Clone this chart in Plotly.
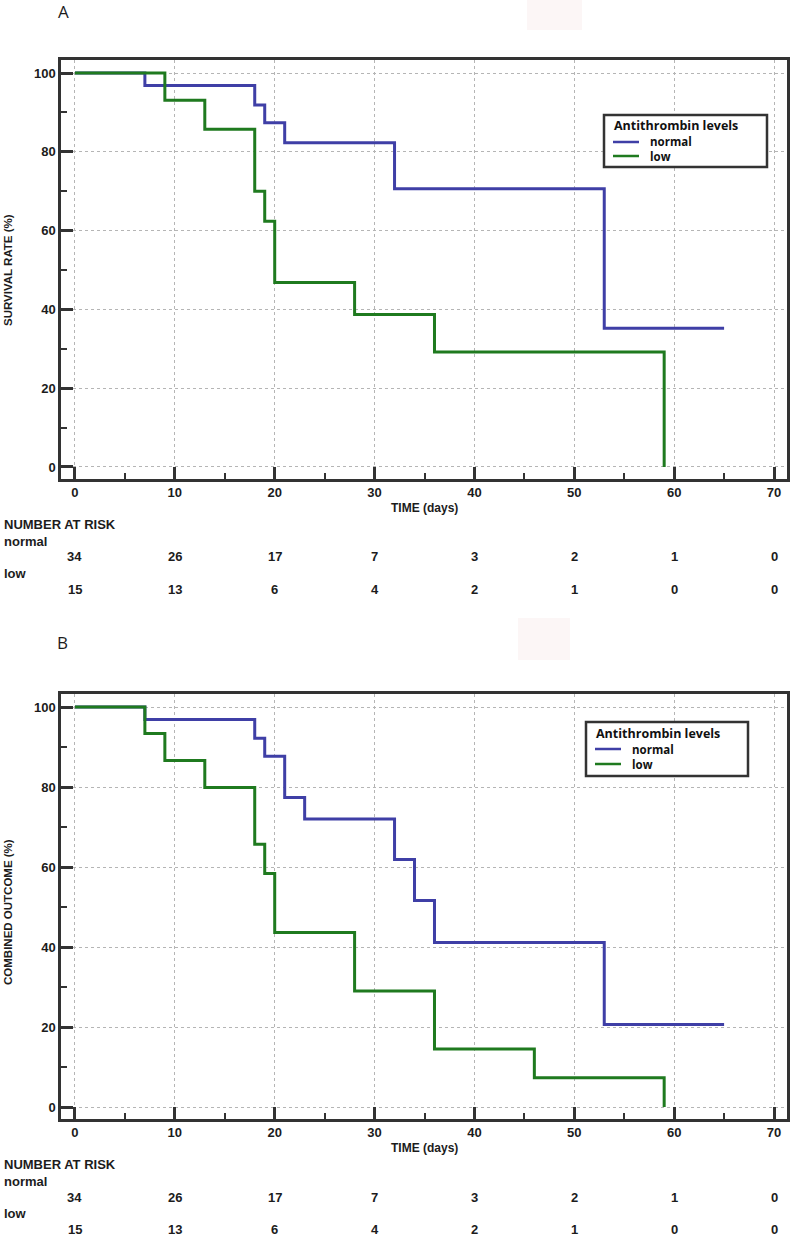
import plotly.graph_objects as go

W, H = 790, 1237

# ---------------- data ----------------
# Panel A: survival
a_normal_t = [0, 7, 18, 19, 21, 32, 53, 65]
a_normal_v = [100, 96.8, 91.9, 87.4, 82.3, 70.6, 35.2, 35.2]
a_low_t = [0, 9, 13, 18, 19, 20, 28, 36, 59]
a_low_v = [100, 93.1, 85.7, 70.0, 62.4, 46.8, 38.7, 29.2, 0]

# Panel B: combined outcome
b_normal_t = [0, 7, 18, 19, 21, 23, 32, 34, 36, 53, 65]
b_normal_v = [100, 96.9, 92.2, 87.7, 77.4, 72.0, 61.9, 51.6, 41.1, 20.6, 20.6]
b_low_t = [0, 7, 9, 13, 18, 19, 20, 28, 36, 46, 59]
b_low_v = [100, 93.4, 86.6, 79.9, 65.7, 58.4, 43.6, 29.0, 14.5, 7.3, 0]

risk_times = [0, 10, 20, 30, 40, 50, 60, 70]
a_risk_normal = [34, 26, 17, 7, 3, 2, 1, 0]
a_risk_low = [15, 13, 6, 4, 2, 1, 0, 0]
b_risk_normal = [34, 26, 17, 7, 3, 2, 1, 0]
b_risk_low = [15, 13, 6, 4, 2, 1, 0, 0]

x_ticks = [0, 10, 20, 30, 40, 50, 60, 70]
y_ticks = [0, 20, 40, 60, 80, 100]

group_names = ["normal", "low"]
legend_title = "Antithrombin levels"

BLUE = "#3f3fa6"
GREEN = "#1f7a1f"
DARK = "#333333"
TXT = "#1c1c1c"
FONT = "Liberation Sans"


def fx(p):
    return p / W


def fy(p):
    return 1 - p / H


fig = go.Figure()

for xs, ys, col, nm, xa, ya in [
    (a_normal_t, a_normal_v, BLUE, group_names[0], "x", "y"),
    (a_low_t, a_low_v, GREEN, group_names[1], "x", "y"),
    (b_normal_t, b_normal_v, BLUE, group_names[0], "x2", "y2"),
    (b_low_t, b_low_v, GREEN, group_names[1], "x2", "y2"),
]:
    fig.add_trace(go.Scatter(x=xs, y=ys, mode="lines", line_shape="hv",
                             line=dict(color=col, width=3), name=nm,
                             xaxis=xa, yaxis=ya, showlegend=False))

tickfont = dict(family=FONT, size=13, color=TXT, weight="bold")

xcommon = dict(
    range=[-1.4, 71.3], tickvals=x_ticks, ticks="inside", ticklen=12, tickwidth=2.5,
    tickcolor=DARK, showline=True, linewidth=2.5, linecolor=DARK, mirror=True,
    showgrid=True, gridcolor="#b5b5b5", griddash="dot", gridwidth=1, zeroline=False,
    tickfont=tickfont,
    minor=dict(dtick=5, tick0=0, ticks="inside", ticklen=6, tickwidth=1.5,
               tickcolor=DARK, showgrid=False),
    domain=[fx(61), fx(787)],
)
ycommon = dict(
    tickvals=y_ticks, ticks="inside", ticklen=12, tickwidth=2.5,
    tickcolor=DARK, showline=True, linewidth=2.5, linecolor=DARK, mirror=True,
    showgrid=True, gridcolor="#b5b5b5", griddash="dot", gridwidth=1, zeroline=False,
    tickfont=tickfont,
    minor=dict(dtick=10, tick0=0, ticks="inside", ticklen=6, tickwidth=1.5,
               tickcolor=DARK, showgrid=False),
)

fig.update_layout(
    width=W, height=H,
    margin=dict(l=0, r=0, t=0, b=0),
    paper_bgcolor="white", plot_bgcolor="white",
    showlegend=False,
    xaxis=dict(**xcommon, anchor="y"),
    yaxis=dict(**ycommon, range=[-3.05, 103.3], domain=[fy(479), fy(60)], anchor="x"),
    xaxis2=dict(**xcommon, anchor="y2"),
    yaxis2=dict(**ycommon, range=[-3.0, 103.25], domain=[fy(1119), fy(694)], anchor="x2"),
)

ann = []


def text(x, y, s, size=12, xanchor="center", xref="paper", bold=True, angle=0,
         family=FONT, color=TXT, yanchor="middle"):
    ann.append(dict(
        x=x, y=y, xref=xref, yref="paper",
        text=f"<b>{s}</b>" if bold else s, showarrow=False,
        xanchor=xanchor, yanchor=yanchor, textangle=angle, borderpad=0,
        align="left" if xanchor == "left" else "center",
        font=dict(family=family, size=size, color=color),
    ))


# panel letters
text(fx(63.5), fy(11), "A", size=17, bold=False, family="Open Sans")
text(fx(63), fy(642), "B", size=17, bold=False, family="Open Sans")

# y axis titles
text(fx(8), fy(270), "SURVIVAL RATE (%)", size=11.5, angle=-90)
text(fx(8), fy(912), "COMBINED OUTCOME (%)", size=11.5, angle=-90)

# panel blocks (x title + number at risk)
for (ybase, rn, rl, xr) in [(479, a_risk_normal, a_risk_low, "x"),
                            (1119, b_risk_normal, b_risk_low, "x2")]:
    text(fx(424), fy(ybase + 29), "TIME (days)", size=12)
    text(fx(3), fy(ybase + 45), "NUMBER AT RISK", size=13, xanchor="left")
    text(fx(3), fy(ybase + 62), group_names[0], size=13, xanchor="left")
    text(fx(3), fy(ybase + 94), group_names[1], size=13, xanchor="left")
    for t, n in zip(risk_times, rn):
        text(t, fy(ybase + 78), str(n), size=13, xref=xr)
    for t, n in zip(risk_times, rl):
        text(t, fy(ybase + 110), str(n), size=13, xref=xr)

shapes = []
# custom legends: (box x0, y0, x1, y1, text-left x, title y, row ys)
for (bx0, by0, bx1, by1, lx, ty, rows) in [
    (604, 115, 767, 167, 613, 126, (142, 156)),
    (586, 722, 748, 776, 595, 733, (749, 764)),
]:
    shapes.append(dict(type="rect", xref="paper", yref="paper",
                       x0=fx(bx0), x1=fx(bx1), y0=fy(by1), y1=fy(by0),
                       fillcolor="white", line=dict(color=DARK, width=2.5)))
    text(fx(lx), fy(ty), legend_title, size=12.5, xanchor="left",
         family="Open Sans", color="#111111")
    for ry, col in zip(rows, [BLUE, GREEN]):
        shapes.append(dict(type="line", xref="paper", yref="paper",
                           x0=fx(lx), x1=fx(lx + 26), y0=fy(ry), y1=fy(ry),
                           line=dict(color=col, width=2.5)))
    text(fx(lx + 36), fy((rows[0] + rows[1]) / 2), "<br>".join(group_names),
         size=11.5, xanchor="left", family="Open Sans", color="#111111")

# faint background patches present in the source image
shapes.append(dict(type="rect", xref="paper", yref="paper", x0=fx(527), x1=fx(582),
                   y0=fy(30), y1=fy(0), fillcolor="#fcf6f6", line_width=0, layer="below"))
shapes.append(dict(type="rect", xref="paper", yref="paper", x0=fx(518), x1=fx(570),
                   y0=fy(660), y1=fy(618), fillcolor="#fcf6f6", line_width=0, layer="below"))

fig.update_layout(annotations=ann, shapes=shapes)

fig.write_html("out.html", config={"displayModeBar": False},
               post_script="document.body.style.margin='0';")
